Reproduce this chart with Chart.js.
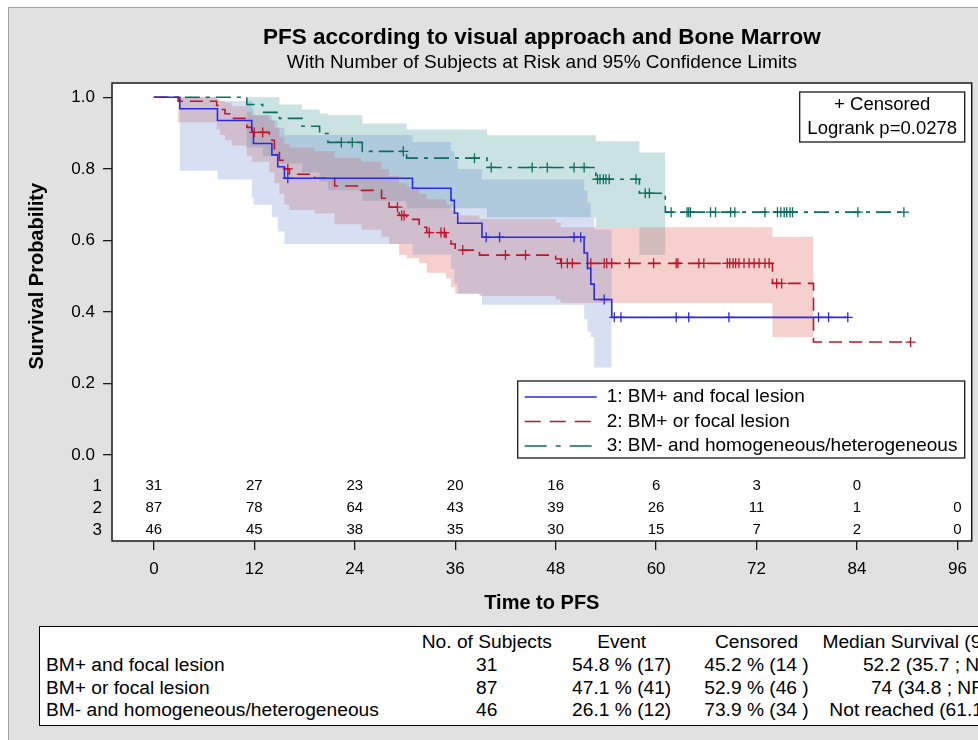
<!DOCTYPE html>
<html>
<head>
<meta charset="utf-8">
<title>PFS according to visual approach and Bone Marrow</title>
<script src="https://cdn.jsdelivr.net/npm/chart.js@4.4.1/dist/chart.umd.min.js"></script>
<style>
  html, body { margin: 0; padding: 0; background: #fff; overflow: hidden; width: 978px; height: 740px; }
  .panel { position: absolute; left: 8px; top: 7px; width: 1000px; height: 760px; background: #e1e1e1; border: 1px solid #a4a4a4; }
  #wrap { position: absolute; left: 0; top: 0; width: 978px; height: 620px; }
  .stats { position: absolute; left: 39px; top: 626px; width: 1000px; height: 98px; background: #fff; border: 1px solid #000;
           font-family: "Liberation Sans", Arial, sans-serif; font-size: 19.2px; color: #000; }
  .stats table { position: absolute; left: 0; top: 4px; border-collapse: collapse; table-layout: fixed; }
  .stats td { padding: 0; height: 22.8px; line-height: 22.8px; white-space: nowrap; text-align: center; overflow: visible; }
  .stats td.lab { text-align: left; text-indent: 6px; }
</style>
</head>
<body>
<div class="panel"></div>
<div id="wrap"><canvas id="kmChart" width="978" height="620"></canvas></div>
<div class="stats">
  <table>
    <colgroup><col style="width:381px"><col style="width:132px"><col style="width:138px"><col style="width:132px"><col style="width:212px"></colgroup>
    <tr><td class="lab"></td><td>No. of Subjects</td><td>Event</td><td>Censored</td><td>Median Survival (95% CI)</td></tr>
    <tr><td class="lab">BM+ and focal lesion</td><td>31</td><td>54.8 % (17)</td><td>45.2 % (14 )</td><td>52.2 (35.7 ; NR)</td></tr>
    <tr><td class="lab">BM+ or focal lesion</td><td>87</td><td>47.1 % (41)</td><td>52.9 % (46 )</td><td>74 (34.8 ; NR)</td></tr>
    <tr><td class="lab">BM- and homogeneous/heterogeneous</td><td>46</td><td>26.1 % (12)</td><td>73.9 % (34 )</td><td>Not reached (61.1 ; NR)</td></tr>
  </table>
</div>
<script>
// axis ticks
const timeTicks = [0, 12, 24, 36, 48, 60, 72, 84, 96];
const probTicks = [0, 0.2, 0.4, 0.6, 0.8, 1.0];

const groupLabels = ['1: BM+ and focal lesion', '2: BM+ or focal lesion', '3: BM- and homogeneous/heterogeneous'];

// group 1: BM+ and focal lesion
const eventTimes1 = [0, 3.1, 7.6, 11.7, 11.9, 14.1, 14.8, 15.6, 30.9, 35.5, 35.9, 36.3, 39.2, 51.4, 51.8, 52.2, 52.6, 54.7];
const survival1 = [1, 0.968, 0.935, 0.903, 0.871, 0.839, 0.806, 0.774, 0.746, 0.712, 0.676, 0.648, 0.609, 0.565, 0.522, 0.478, 0.435, 0.385];
const lowerCL1 = [1, 0.795, 0.77, 0.72, 0.70, 0.665, 0.625, 0.59, 0.56, 0.52, 0.48, 0.45, 0.42, 0.38, 0.345, 0.33, 0.245, 0.245];
const upperCL1 = [1, 1.0, 0.99, 0.97, 0.95, 0.935, 0.915, 0.895, 0.875, 0.85, 0.825, 0.80, 0.77, 0.74, 0.705, 0.665, 0.63, 0.63];
const censor1 = [16.0, 39.7, 41.3, 50.2, 51.0, 53.8, 55.0, 55.8, 62.4, 63.9, 68.7, 79.4, 80.6, 82.9];

// group 2: BM+ or focal lesion
const eventTimes2 = [0, 2.9, 7.5, 7.9, 8.5, 9.3, 11.1, 11.7, 13.8, 14.4, 15.0, 15.6, 16.2, 19.2, 21.6, 24.8, 27.2, 28.1, 29.3, 30.2,
                     31.7, 32.6, 34.9, 35.5, 36.0, 38.9, 48.0, 48.6, 73.9, 78.8];
const survival2 = [1, 0.989, 0.977, 0.966, 0.954, 0.941, 0.916, 0.902, 0.88, 0.852, 0.824, 0.80, 0.785, 0.774, 0.752, 0.74, 0.718, 0.693, 0.670, 0.659,
                   0.637, 0.622, 0.606, 0.590, 0.573, 0.559, 0.548, 0.536, 0.48, 0.316];
const lowerCL2 = [1, 0.93, 0.91, 0.895, 0.88, 0.865, 0.835, 0.82, 0.79, 0.76, 0.73, 0.70, 0.685, 0.675, 0.645, 0.63, 0.61, 0.59, 0.56, 0.55,
                  0.536, 0.51, 0.494, 0.469, 0.452, 0.445, 0.435, 0.425, 0.33, 0.33];
const upperCL2 = [1, 1.0, 0.995, 0.99, 0.985, 0.975, 0.96, 0.95, 0.935, 0.915, 0.89, 0.87, 0.86, 0.85, 0.83, 0.82, 0.80, 0.78, 0.76, 0.75,
                  0.73, 0.715, 0.70, 0.685, 0.67, 0.66, 0.65, 0.637, 0.61, 0.61];
const censor2 = [12.0, 13.0, 16.0, 29.1, 29.6, 29.9, 32.9, 34.3, 34.7, 36.9, 42.0, 44.4, 48.7, 49.4, 50.0, 52.2, 53.8, 54.1, 54.7,
                 56.8, 59.7, 62.4, 62.6, 65.1, 65.7, 68.5, 68.8, 69.2, 69.5, 69.9, 70.5, 71.1, 71.7, 72.3, 73.0, 73.5, 74.4, 75.0, 90.4];

// group 3: BM- and homogeneous/heterogeneous
const eventTimes3 = [0, 11.1, 13.0, 15.0, 17.7, 19.8, 20.8, 24.9, 30.2, 39.8, 52.8, 58.0, 61.1];
const survival3 = [1, 0.98, 0.958, 0.941, 0.919, 0.899, 0.874, 0.849, 0.83, 0.804, 0.771, 0.732, 0.679];
const lowerCL3 = [1, 0.86, 0.835, 0.815, 0.79, 0.765, 0.74, 0.71, 0.69, 0.665, 0.637, 0.56, 0.56];
const upperCL3 = [1, 1.0, 1.0, 0.98, 0.966, 0.955, 0.95, 0.927, 0.91, 0.894, 0.877, 0.846, 0.846];
const censor3 = [22.4, 23.7, 29.8, 38.3, 40.3, 45.2, 47.0, 50.2, 51.4, 53.0, 53.3, 53.7, 54.0, 54.4, 57.6, 58.7, 59.2,
                 61.8, 63.7, 63.9, 64.1, 66.5, 67.1, 68.9, 69.4, 73.0, 74.5, 74.9, 75.3, 75.6, 76.0, 76.3, 84.1, 89.6];

// number of subjects at risk at each time tick
const atRisk1 = [31, 27, 23, 20, 16, 6, 3, 0, null];
const atRisk2 = [87, 78, 64, 43, 39, 26, 11, 1, 0];
const atRisk3 = [46, 45, 38, 35, 30, 15, 7, 2, 0];

const logrankText = 'Logrank p=0.0278';

const FONT = '"Liberation Sans", Arial, sans-serif';

const groups = [
  { times: eventTimes1, surv: survival1, lower: lowerCL1, upper: upperCL1, cens: censor1, risk: atRisk1,
    color: '#2a2ae0', band: 'rgba(110,140,210,0.28)', dash: [] },
  { times: eventTimes2, surv: survival2, lower: lowerCL2, upper: upperCL2, cens: censor2, risk: atRisk2,
    color: '#c0142a', band: 'rgba(225,100,90,0.30)', dash: [13, 7] },
  { times: eventTimes3, surv: survival3, lower: lowerCL3, upper: upperCL3, cens: censor3, risk: atRisk3,
    color: '#0a6e5f', band: 'rgba(80,160,160,0.30)', dash: [15, 6, 4, 6] }
];

function stepPoints(times, values, endTime) {
  const pts = times.map((t, i) => ({ x: t, y: values[i] }));
  if (endTime !== undefined && endTime > times[times.length - 1]) {
    pts.push({ x: endTime, y: values[values.length - 1] });
  }
  return pts;
}

function survAt(times, values, t) {
  let s = values[0];
  for (let i = 0; i < times.length; i++) {
    if (times[i] <= t) s = values[i];
  }
  return s;
}

const datasets = [];
groups.forEach((g, k) => {
  // confidence band: upper filled down to lower
  datasets.push({
    label: 'upper' + (k + 1), data: stepPoints(g.times, g.upper), stepped: 'before',
    fill: '+1', backgroundColor: g.band, borderColor: 'transparent', borderWidth: 0, pointRadius: 0, order: 3
  });
  datasets.push({
    label: 'lower' + (k + 1), data: stepPoints(g.times, g.lower), stepped: 'before',
    fill: false, borderColor: 'transparent', borderWidth: 0, pointRadius: 0, order: 3
  });
});
groups.forEach((g, k) => {
  const lastTime = Math.max(g.times[g.times.length - 1], ...g.cens);
  datasets.push({
    label: groupLabels[k], data: stepPoints(g.times, g.surv, lastTime), stepped: 'before',
    fill: false, borderColor: g.color, borderWidth: 1.6, borderDash: g.dash, pointRadius: 0, order: 1
  });
  datasets.push({
    label: 'censored' + (k + 1), data: g.cens.map(t => ({ x: t, y: survAt(g.times, g.surv, t) })),
    showLine: false, pointStyle: 'cross', pointRadius: 5, pointBorderWidth: 1.3,
    pointBorderColor: g.color, borderColor: g.color, order: 0
  });
});

const kmDecor = {
  id: 'kmDecor',
  beforeDraw(chart) {
    const { ctx, chartArea: a } = chart;
    ctx.save();
    ctx.fillStyle = '#fff';
    ctx.fillRect(a.left, a.top, a.right - a.left, a.bottom - a.top);
    ctx.restore();
  },
  afterDraw(chart) {
    const { ctx, chartArea: a, scales: { x, y } } = chart;
    ctx.save();
    ctx.fillStyle = '#000';
    ctx.strokeStyle = '#1a1a1a';

    // plot frame
    ctx.lineWidth = 1.5;
    ctx.strokeRect(a.left, a.top, a.right - a.left, a.bottom - a.top);

    // y axis title, centred on the 0-1 range
    const yMid = (y.getPixelForValue(0) + y.getPixelForValue(1)) / 2;
    ctx.save();
    ctx.translate(37, yMid);
    ctx.rotate(-Math.PI / 2);
    ctx.font = 'bold 20px ' + FONT;
    ctx.textAlign = 'center';
    ctx.textBaseline = 'middle';
    ctx.fillText('Survival Probability', 0, 0);
    ctx.restore();

    // subjects at risk
    const rowOffsets = [55, 33, 11];
    groups.forEach((g, k) => {
      const ry = a.bottom - rowOffsets[k];
      ctx.font = '17px ' + FONT;
      ctx.textAlign = 'right';
      ctx.textBaseline = 'middle';
      ctx.fillText(String(k + 1), a.left - 10, ry);
      ctx.font = '15px ' + FONT;
      ctx.textAlign = 'center';
      g.risk.forEach((n, i) => {
        if (n === null) return;
        ctx.fillText(String(n), x.getPixelForValue(timeTicks[i]), ry);
      });
    });

    // censored / logrank box
    ctx.lineWidth = 1.3;
    const cb = { l: a.right - 172, r: a.right - 7, t: a.top + 9, b: a.top + 59 };
    ctx.strokeRect(cb.l, cb.t, cb.r - cb.l, cb.b - cb.t);
    ctx.font = '18.5px ' + FONT;
    ctx.textAlign = 'center';
    ctx.textBaseline = 'middle';
    const cx = (cb.l + cb.r) / 2;
    ctx.fillText('+ Censored', cx, cb.t + 13);
    ctx.fillText(logrankText, cx, cb.t + 37);

    // legend box
    const lb = { l: a.right - 454, r: a.right - 7, t: a.bottom - 160, b: a.bottom - 83 };
    ctx.strokeRect(lb.l, lb.t, lb.r - lb.l, lb.b - lb.t);
    ctx.font = '19px ' + FONT;
    ctx.textAlign = 'left';
    groupLabels.forEach((lab, k) => {
      const ly = lb.t + 16 + k * 24.5;
      ctx.save();
      ctx.strokeStyle = groups[k].color;
      ctx.lineWidth = 1.6;
      ctx.setLineDash(k === 1 ? [16, 9] : k === 2 ? [22, 9, 5, 9] : []);
      ctx.beginPath();
      ctx.moveTo(lb.l + 7, ly);
      ctx.lineTo(lb.l + 79, ly);
      ctx.stroke();
      ctx.restore();
      ctx.fillText(lab, lb.l + 89, ly);
    });
    ctx.restore();
  }
};

Chart.defaults.font.family = FONT;
Chart.defaults.color = '#000';

new Chart(document.getElementById('kmChart'), {
  type: 'line',
  data: { datasets },
  options: {
    responsive: false,
    animation: false,
    events: [],
    layout: { padding: { left: 0, right: 5, top: 0, bottom: 0 } },
    plugins: {
      legend: { display: false },
      tooltip: { enabled: false },
      title: {
        display: true, fullSize: false, text: 'PFS according to visual approach and Bone Marrow',
        font: { size: 22.5, weight: 'bold' }, color: '#000', padding: { top: 24.5, bottom: 0 }
      },
      subtitle: {
        display: true, fullSize: false, text: 'With Number of Subjects at Risk and 95% Confidence Limits',
        font: { size: 19 }, color: '#000', padding: { top: 0.1, bottom: 8.6 }
      }
    },
    scales: {
      x: {
        type: 'linear', min: -5, max: 97.7,
        afterBuildTicks: s => { s.ticks = timeTicks.map(v => ({ value: v })); },
        afterFit: s => { s.height = 79; },
        ticks: { font: { size: 17 }, padding: 8.8, maxRotation: 0, autoSkip: false },
        grid: { drawOnChartArea: false, drawTicks: true, tickLength: 9, color: '#1a1a1a', lineWidth: 1.3 },
        border: { display: false },
        title: { display: true, text: 'Time to PFS', font: { size: 20, weight: 'bold' }, padding: { top: 0, bottom: 4.5 } }
      },
      y: {
        type: 'linear', min: -0.24, max: 1.04,
        afterBuildTicks: s => { s.ticks = probTicks.map(v => ({ value: v })); },
        afterFit: s => { s.width = 112; },
        ticks: { font: { size: 17 }, padding: 8, callback: v => Number(v).toFixed(1) },
        grid: { drawOnChartArea: false, drawTicks: true, tickLength: 9, color: '#1a1a1a', lineWidth: 1.3 },
        border: { display: false }
      }
    }
  },
  plugins: [kmDecor]
});
</script>
</body>
</html>
